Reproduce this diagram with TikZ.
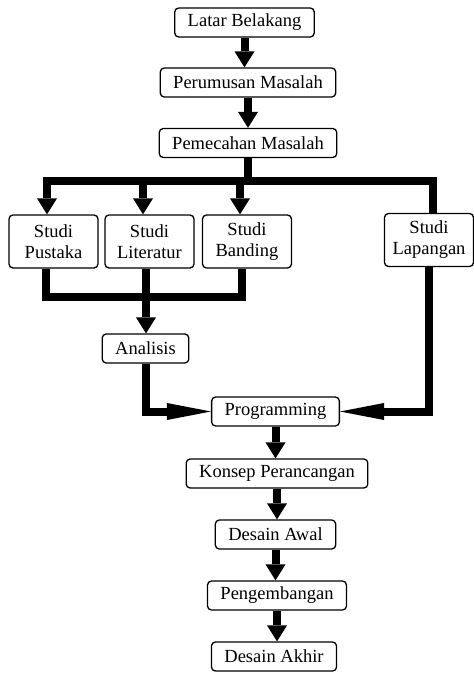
\documentclass[tikz,border=0pt]{standalone}
\usepackage{fontspec}
\setmainfont{Liberation Serif}
\usetikzlibrary{arrows.meta}
\begin{document}
\begin{tikzpicture}[x=1pt,y=-1pt,
    box/.style={draw,line width=1.3pt,rounded corners=4pt,fill=white,minimum height=29pt,inner xsep=13pt,inner ysep=2pt,font=\fontsize{18.5}{21}\selectfont},
    studi/.style={box,minimum width=89pt,minimum height=53pt,inner xsep=3pt,align=center},
    bar/.style={line width=8pt,line join=miter},
    arr/.style={bar,-{Triangle[width=20pt,length=16pt,line width=0pt]}},
    harr/.style={bar,-{Triangle[width=17pt,length=44pt,line width=0pt]}}]
                \useasboundingbox (0,0) rectangle (474,673);
                %% upper chain
                \node[box] (latar) at (244.5,22.5) {Latar Belakang};
                \node[box] (rumus) at (248,82.5) {Perumusan Masalah};
                \node[box] (pecah) at (248,143) {Pemecahan Masalah};
                %% studies
                \node[studi] (pustaka) at (53.5,241.5) {Studi\\Pustaka};
                \node[studi] (literatur) at (149.5,241.5) {Studi\\Literatur};
                \node[studi] (banding) at (247,241.5) {Studi\\Banding};
                \node[studi] (lapangan) at (429,240) {Studi\\Lapangan};
                %% lower chain
                \node[box] (analisis) at (145.5,348.5) {Analisis};
                \node[box] (program) at (275.5,411.5) {Programming};
                \node[box] (konsep) at (277,473.5) {Konsep Perancangan};
                \node[box] (awal) at (275.5,534.5) {Desain Awal};
                \node[box] (kembang) at (277,595.5) {Pengembangan};
                \node[box] (akhir) at (274,656.5) {Desain Akhir};
                %% branch
                \coordinate (b1) at (47,181);
                \coordinate (b2) at (143,181);
                \coordinate (b3) at (240,181);
                \coordinate (b4) at (433,181);
                \draw[bar] (pecah.south) -- (pecah.south |- b1);
                \draw[arr,{Triangle[width=20pt,length=16pt,line width=0pt]}-] (b1 |- pustaka.north) -- (b1) -- (b4) -- (b4 |- lapangan.north);
                \draw[arr] (b2) -- (b2 |- literatur.north);
                \draw[arr] (b3) -- (b3 |- banding.north);
                %% merge
                \coordinate (m1) at (46,297);
                \coordinate (m2) at (146,297);
                \coordinate (m3) at (242,297);
                \draw[bar] (m1 |- pustaka.south) -- (m1) -- (m3) -- (m3 |- banding.south);
                \draw[bar] (m2 |- literatur.south) -- (m2);
                \draw[arr] (m2) -- (m2 |- analisis.north);
                \draw[harr] (analisis) |- (program);
                \draw[harr] (lapangan) |- (program);
                %% straight arrows
                \foreach \a/\b in {latar/rumus,rumus/pecah,program/konsep,konsep/awal,awal/kembang,kembang/akhir}
                    \draw[arr] (\a.south) -- (\a.south |- \b.north);
            \end{tikzpicture}
\end{document}
